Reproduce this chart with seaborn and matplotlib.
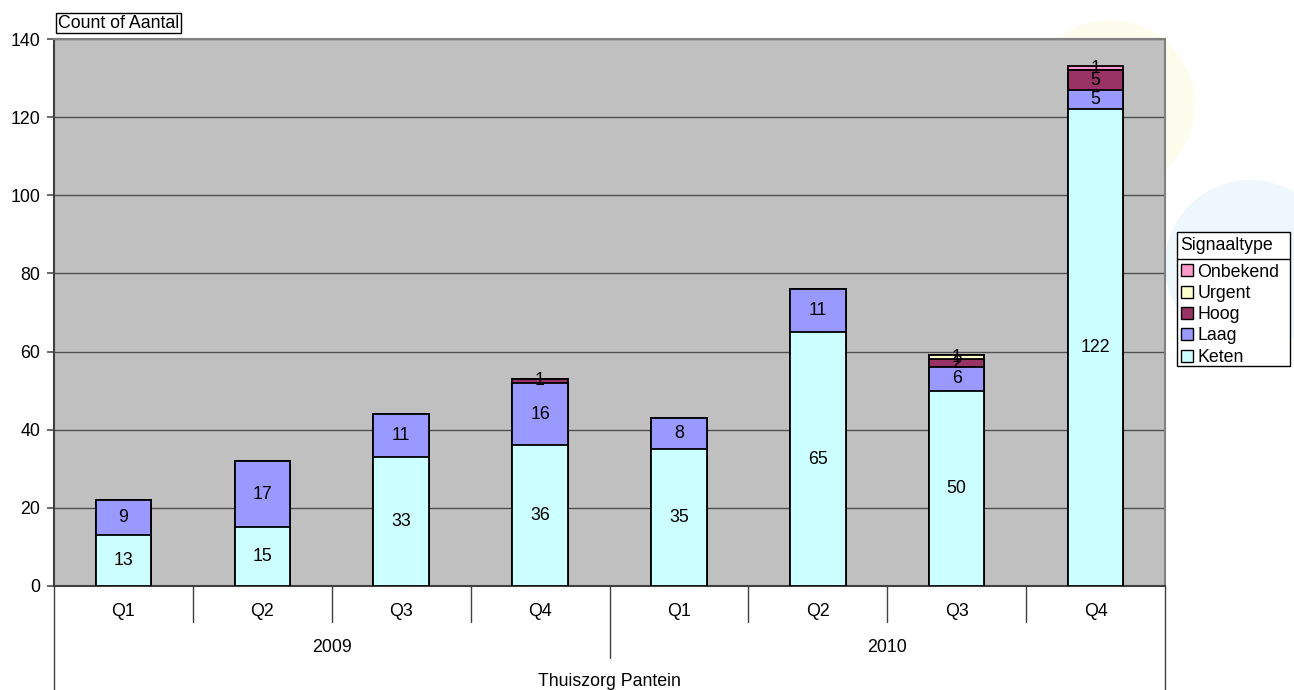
import pandas as pd
import matplotlib
matplotlib.use('Agg')
import matplotlib.pyplot as plt
import seaborn as sns
from matplotlib.patches import Rectangle, Ellipse
from matplotlib.lines import Line2D

# ---- DATA ----
jaren = ['2009', '2010']
kwartalen = ['Q1', 'Q2', 'Q3', 'Q4']
periodes = [f'{j} {q}' for j in jaren for q in kwartalen]

keten = [13, 15, 33, 36, 35, 65, 50, 122]
laag = [9, 17, 11, 16, 8, 11, 6, 5]
hoog = [0, 0, 0, 1, 0, 0, 2, 5]
urgent = [0, 0, 0, 0, 0, 0, 1, 0]
onbekend = [0, 0, 0, 0, 0, 0, 0, 1]

types = ['Keten', 'Laag', 'Hoog', 'Urgent', 'Onbekend']
waarden = [keten, laag, hoog, urgent, onbekend]
kleuren = {'Keten': '#CCFFFF', 'Laag': '#9999FF', 'Hoog': '#993366',
           'Urgent': '#FFFFCC', 'Onbekend': '#FF99CC'}

rows = []
for i, p in enumerate(periodes):
    bodem = 0
    for t, vals in zip(types, waarden):
        v = vals[i]
        rows.append({'periode': p, 'idx': i, 'type': t, 'aantal': v,
                     'bodem': bodem, 'top': bodem + v})
        bodem += v
df = pd.DataFrame(rows)

# ---- FIGUUR ----
sns.set_style('white')
plt.rcParams['font.family'] = ['Liberation Sans', 'DejaVu Sans']
plt.rcParams['text.color'] = 'black'
plt.rcParams['ytick.labelcolor'] = 'black'
FS = 12.8
W, H = 1294, 690
fig = plt.figure(figsize=(W / 100, H / 100), dpi=100)
fig.patch.set_facecolor('white')

# vage achtergrond-cirkels (watermerk)
fig.add_artist(Ellipse((1110 / W, 1 - 105 / H), 170 / W, 170 / H, transform=fig.transFigure,
                       facecolor='#FDFDEE', edgecolor='none', zorder=-2))
fig.add_artist(Ellipse((1250 / W, 1 - 265 / H), 170 / W, 170 / H, transform=fig.transFigure,
                       facecolor='#EEF7FB', edgecolor='none', zorder=-2))

L, R, T, B = 54, 1165, 39, 586
ax = fig.add_axes([L / W, 1 - B / H, (R - L) / W, (B - T) / H])
ax.set_facecolor('#C0C0C0')

# gestapelde balken: van totaal naar beneden tekenen
for t in types[::-1]:
    sub = df[df['type'] == t]
    sns.barplot(data=sub, x='periode', y='top', order=periodes, color=kleuren[t],
                saturation=1, edgecolor='black', linewidth=1.3, width=0.4,
                errorbar=None, ax=ax, zorder=3)

for _, r in df[df['aantal'] > 0].iterrows():
    ax.text(r['idx'], r['bodem'] + r['aantal'] / 2, str(r['aantal']),
            ha='center', va='center', fontsize=FS, zorder=5)

ax.set_xlim(-0.5, 7.5)
ax.set_ylim(0, 140)
ax.set_yticks(range(0, 141, 20))
ax.yaxis.grid(True, color='#505050', linewidth=1.0, zorder=1)
ax.set_axisbelow(True)
ax.tick_params(axis='y', length=5, width=1.2, color='#505050', labelsize=FS, pad=5, left=True)
ax.set_xticks(range(8))
ax.set_xticklabels([''] * 8)
ax.tick_params(axis='x', length=0)
ax.set_xlabel('')
ax.set_ylabel('')
for s in ['top', 'right']:
    ax.spines[s].set_color('#808080')
    ax.spines[s].set_linewidth(1.5)
for s in ['left', 'bottom']:
    ax.spines[s].set_color('#404040')
    ax.spines[s].set_linewidth(1.5)

# categorie-as onder de grafiek
ah = B - T
def fy(py):
    return (B - py) / ah

xt = ax.get_xaxis_transform()
lijn = dict(color='#404040', linewidth=1.0, clip_on=False, transform=xt)
ax.plot([-0.5, -0.5], [0, fy(690)], **lijn)
ax.plot([7.5, 7.5], [0, fy(690)], **lijn)
for k in range(1, 8):
    ax.plot([k - 0.5, k - 0.5], [0, fy(658 if k == 4 else 622)], **lijn)

for i, p in enumerate(periodes):
    ax.text(i, fy(612), p.split()[1], ha='center', va='center', fontsize=FS, transform=xt)
for j, jaar in enumerate(jaren):
    ax.text(1.5 + 4 * j, fy(648), jaar, ha='center', va='center', fontsize=FS, transform=xt)
ax.text(3.5, fy(681), 'Thuiszorg Pantein', ha='center', va='center', fontsize=FS, transform=xt)

# veldknop linksboven
fig.text(58 / W, 1 - 23 / H, 'Count of Aantal', ha='left', va='center', fontsize=FS,
         bbox=dict(boxstyle='square,pad=0.1', facecolor='white', edgecolor='black', linewidth=1))

# ---- LEGENDA ----
lx0, lx1, ly0, lsep, ly1 = 1177, 1290, 232, 259, 366
fig.add_artist(Rectangle((lx0 / W, 1 - ly1 / H), (lx1 - lx0) / W, (ly1 - ly0) / H,
                         transform=fig.transFigure, facecolor='white', edgecolor='black',
                         linewidth=1, zorder=2))
fig.add_artist(Line2D([lx0 / W, lx1 / W], [1 - lsep / H, 1 - lsep / H],
                      transform=fig.transFigure, color='black', linewidth=1, zorder=3))
fig.text((lx0 + 3) / W, 1 - (ly0 + lsep) / 2 / H, 'Signaaltype', ha='left', va='center',
         fontsize=FS, zorder=4)
handles = [Line2D([], [], marker='s', linestyle='none', markersize=9,
                  markerfacecolor=kleuren[t], markeredgecolor='black', markeredgewidth=1)
           for t in types[::-1]]
leg = fig.legend(handles, types[::-1], loc='upper left',
                 bbox_to_anchor=((lx0 + 1) / W, 1 - (lsep + 2) / H), frameon=False,
                 fontsize=FS, handlelength=0.7, handletextpad=0.25, labelspacing=0.24,
                 borderpad=0.15, borderaxespad=0)
leg.set_zorder(5)

fig.savefig('out.png', dpi=100, facecolor='white')
